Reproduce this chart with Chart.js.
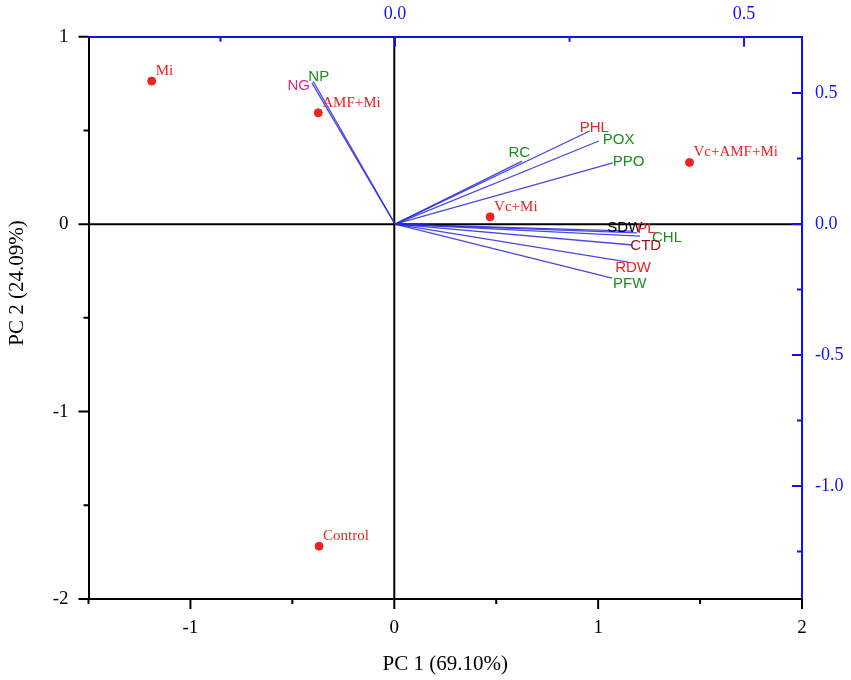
<!DOCTYPE html>
<html>
<head>
<meta charset="utf-8">
<title>PCA biplot</title>
<script src="https://cdn.jsdelivr.net/npm/chart.js@4.4.1/dist/chart.umd.min.js"></script>
<style>
  html, body { margin: 0; padding: 0; background: #fff; }
</style>
</head>
<body>
<canvas id="biplot" width="851" height="680"></canvas>
<script>
// Treatments = scores, read on bottom (PC 1) and left (PC 2) axes
const treatments = ['Mi', 'AMF+Mi', 'Vc+Mi', 'Vc+AMF+Mi', 'Control'];
const scorePC1 = [-1.19, -0.373, 0.47, 1.448, -0.369];
const scorePC2 = [0.763, 0.594, 0.039, 0.329, -1.718];

// Traits = loadings, read on top and right (blue) axes
const traits = ['NG', 'NP', 'RC', 'PHL', 'POX', 'PPO', 'SDW', 'PL', 'CHL', 'CTD', 'RDW', 'PFW'];
const loadPC1 = [-0.119, -0.117, 0.182, 0.279, 0.292, 0.312, 0.34, 0.347, 0.351, 0.34, 0.334, 0.311];
const loadPC2 = [0.539, 0.544, 0.24, 0.355, 0.317, 0.233, -0.027, -0.034, -0.046, -0.08, -0.145, -0.206];

// Tick values (labelled ones are the integers / multiples of 0.5)
const pc1Ticks = [-1.5, -1, -0.5, 0, 0.5, 1, 1.5, 2];
const pc2Ticks = [1, 0.5, 0, -0.5, -1, -1.5, -2];
const loadXTicks = [-0.25, 0, 0.25, 0.5];
const loadYTicks = [0.5, 0.25, 0, -0.25, -0.5, -0.75, -1, -1.25];

const axisTitleX = 'PC 1 (69.10%)';
const axisTitleY = 'PC 2 (24.09%)';

const SERIF = '"Liberation Serif", "Times New Roman", serif';
const SANS = '"Liberation Sans", Arial, sans-serif';
const BLUE = '#1010ff';
const GREEN = '#1e8c1e';
const RED = '#ee2222';

// label look for each trait: colour and offset from arrow tip
const traitLabelStyle = {
  NG: { color: '#e0268c', dx: -2, dy: 3, align: 'right' },
  NP: { color: GREEN, dx: -5, dy: -5, align: 'left' },
  RC: { color: GREEN, dx: 8, dy: -8, align: 'right' },
  PHL: { color: RED, dx: -10, dy: -3, align: 'left' },
  POX: { color: GREEN, dx: 4, dy: -1, align: 'left' },
  PPO: { color: GREEN, dx: 0, dy: -1, align: 'left' },
  SDW: { color: '#000', dx: -25, dy: -3, align: 'left' },
  PL: { color: RED, dx: 0, dy: -4, align: 'left' },
  CHL: { color: GREEN, dx: 12, dy: 2, align: 'left' },
  CTD: { color: '#9a1010', dx: -2, dy: 1, align: 'left' },
  RDW: { color: RED, dx: -13, dy: 6, align: 'left' },
  PFW: { color: GREEN, dx: 1, dy: 6, align: 'left' },
};

const isHalf = (v) => Math.abs(v * 2 - Math.round(v * 2)) < 1e-9;

// short tick for minor values, long for labelled ones
const drawTickMarks = (ctx, scale, values, side, color, isMajor) => {
  const a = scale.chart.chartArea;
  ctx.save();
  ctx.strokeStyle = color;
  ctx.lineWidth = 2;
  ctx.beginPath();
  values.forEach((v) => {
    const len = isMajor(v) ? 10 : 5;
    const p = scale.getPixelForValue(v);
    if (side === 'bottom') { ctx.moveTo(p, a.bottom); ctx.lineTo(p, a.bottom + len); }
    if (side === 'left') { ctx.moveTo(a.left, p); ctx.lineTo(a.left - len, p); }
    if (side === 'top') { ctx.moveTo(p, a.top); ctx.lineTo(p, a.top + len); }
    if (side === 'right') { ctx.moveTo(a.right, p); ctx.lineTo(a.right - len, p); }
  });
  ctx.stroke();
  ctx.restore();
};

const biplotExtras = {
  id: 'biplotExtras',
  beforeDatasetsDraw(chart) {
    const { ctx, chartArea: a, scales: { x, y } } = chart;
    const x0 = x.getPixelForValue(0);
    const y0 = y.getPixelForValue(0);
    ctx.save();
    ctx.strokeStyle = '#000';
    ctx.lineWidth = 2;
    ctx.beginPath();
    ctx.moveTo(x0, a.top);
    ctx.lineTo(x0, a.bottom);
    ctx.moveTo(a.left, y0);
    ctx.lineTo(a.right, y0);
    ctx.stroke();
    ctx.restore();
  },
  afterDraw(chart) {
    const { ctx, chartArea: a, scales } = chart;
    drawTickMarks(ctx, scales.x, pc1Ticks, 'bottom', '#000', Number.isInteger);
    drawTickMarks(ctx, scales.y, pc2Ticks, 'left', '#000', Number.isInteger);
    drawTickMarks(ctx, scales.x2, loadXTicks, 'top', BLUE, isHalf);
    drawTickMarks(ctx, scales.y2, loadYTicks, 'right', BLUE, isHalf);

    ctx.save();
    ctx.textBaseline = 'middle';
    // treatment names
    const scoreMeta = chart.getDatasetMeta(0);
    ctx.font = `15px ${SERIF}`;
    ctx.fillStyle = RED;
    ctx.textAlign = 'left';
    scoreMeta.data.forEach((pt, i) => {
      ctx.fillText(treatments[i], pt.x + 4, pt.y - 10);
    });
    // trait names at arrow tips
    ctx.font = `15px ${SANS}`;
    traits.forEach((t, i) => {
      const tip = chart.getDatasetMeta(i + 1).data[1];
      const st = traitLabelStyle[t];
      ctx.fillStyle = st.color;
      ctx.textAlign = st.align;
      ctx.fillText(t, tip.x + st.dx, tip.y + st.dy);
    });
    // axis titles
    ctx.fillStyle = '#000';
    ctx.font = `21px ${SERIF}`;
    ctx.textAlign = 'center';
    ctx.fillText(axisTitleX, (a.left + a.right) / 2, 664);
    ctx.translate(17, 283);
    ctx.rotate(-Math.PI / 2);
    ctx.fillText(axisTitleY, 0, 0);
    ctx.restore();
  },
};

const datasets = [{
  label: 'Treatments',
  data: scorePC1.map((v, i) => ({ x: v, y: scorePC2[i] })),
  xAxisID: 'x',
  yAxisID: 'y',
  backgroundColor: RED,
  borderColor: RED,
  pointRadius: 4,
  showLine: false,
}];
traits.forEach((t, i) => {
  datasets.push({
    label: t,
    data: [{ x: 0, y: 0 }, { x: loadPC1[i], y: loadPC2[i] }],
    xAxisID: 'x2',
    yAxisID: 'y2',
    showLine: true,
    borderColor: 'rgba(40, 40, 225, 0.85)',
    borderWidth: 1.3,
    pointRadius: 0,
  });
});

const tickFont = { family: SERIF, size: 19 };
const blueFont = { family: SERIF, size: 18 };
const noGrid = { display: false, drawTicks: false };

// eslint-disable-next-line no-undef
new Chart(document.getElementById('biplot'), {
  type: 'scatter',
  data: { datasets },
  plugins: [biplotExtras],
  options: {
    responsive: false,
    animation: false,
    layout: { padding: 0, autoPadding: false },
    plugins: { legend: { display: false }, tooltip: { enabled: false } },
    scales: {
      x: {
        type: 'linear',
        position: 'bottom',
        min: -1.5,
        max: 2,
        afterBuildTicks: (s) => { s.ticks = pc1Ticks.map((v) => ({ value: v })); },
        afterFit: (s) => { s.height = 81; },
        grid: noGrid,
        border: { display: true, color: '#000', width: 2 },
        ticks: {
          autoSkip: false, maxRotation: 0, padding: 18, color: '#000', font: tickFont,
          callback: (v) => (Number.isInteger(v) ? String(v) : ''),
        },
      },
      y: {
        type: 'linear',
        position: 'left',
        min: -2,
        max: 1,
        afterBuildTicks: (s) => { s.ticks = pc2Ticks.map((v) => ({ value: v })); },
        afterFit: (s) => { s.width = 88.5; },
        grid: noGrid,
        border: { display: true, color: '#000', width: 2 },
        ticks: {
          autoSkip: false, padding: 20, color: '#000', font: tickFont,
          callback: (v) => (Number.isInteger(v) ? String(v) : ''),
        },
      },
      x2: {
        type: 'linear',
        position: 'top',
        min: -0.439,
        max: 0.583,
        afterBuildTicks: (s) => { s.ticks = loadXTicks.map((v) => ({ value: v })); },
        afterFit: (s) => { s.height = 36.7; },
        grid: noGrid,
        border: { display: true, color: BLUE, width: 2 },
        ticks: {
          autoSkip: false, maxRotation: 0, padding: 12, color: BLUE, font: blueFont,
          callback: (v) => (isHalf(v) ? v.toFixed(1) : ''),
        },
      },
      y2: {
        type: 'linear',
        position: 'right',
        min: -1.431,
        max: 0.715,
        afterBuildTicks: (s) => { s.ticks = loadYTicks.map((v) => ({ value: v })); },
        afterFit: (s) => { s.width = 49; },
        grid: noGrid,
        border: { display: true, color: BLUE, width: 2 },
        ticks: {
          autoSkip: false, padding: 13, color: BLUE, font: blueFont,
          callback: (v) => (isHalf(v) ? v.toFixed(1) : ''),
        },
      },
    },
  },
});
</script>
</body>
</html>
